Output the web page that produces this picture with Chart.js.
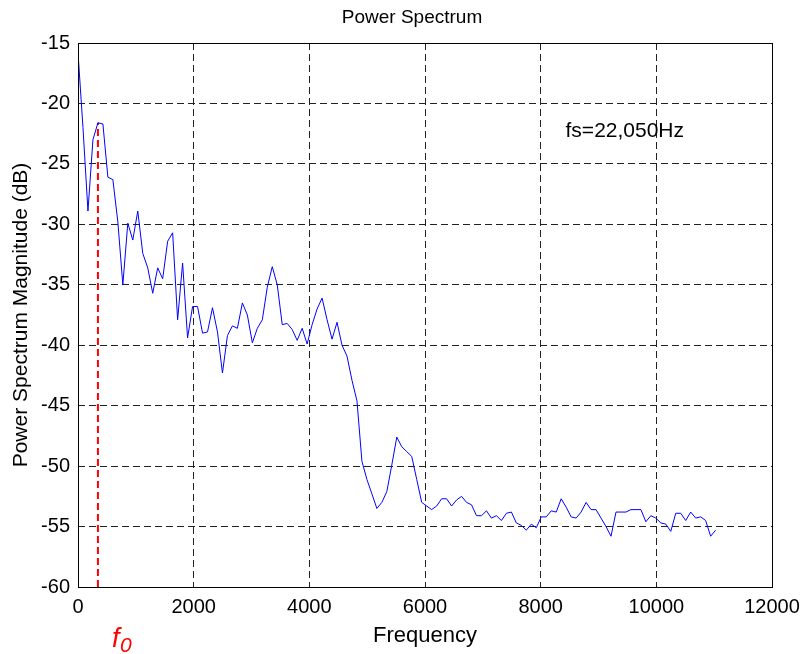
<!DOCTYPE html>
<html>
<head>
<meta charset="utf-8">
<script src="https://cdn.jsdelivr.net/npm/chart.js@4/dist/chart.umd.min.js"></script>
<style>
  html, body { margin: 0; padding: 0; background: #fff; }
  #wrap { width: 808px; height: 654px; }
</style>
</head>
<body>
<div id="wrap"><canvas id="specChart" width="808" height="654"></canvas></div>
<script>
// sample rate and FFT size (256 points -> 129 bins up to fs/2)
const fs = 22050;
const nfft = 256;
const f0Bin = 4;

// magnitude of each bin in dB, bin 0 .. 128
const magDb = [
  -15.8, -22.0, -28.9, -23.0, -21.6, -21.7, -26.1, -26.3, -29.8, -35.0,
  -29.9, -31.3, -28.9, -32.4, -33.6, -35.7, -33.6, -34.5, -31.4, -30.7,
  -37.9, -33.2, -39.4, -36.8, -36.8, -39.0, -38.9, -36.9, -38.9, -42.3,
  -39.2, -38.4, -38.6, -36.5, -37.5, -39.8, -38.6, -37.9, -35.2, -33.5,
  -35.0, -38.3, -38.2, -38.7, -39.6, -38.6, -39.9, -38.3, -37.0, -36.1,
  -37.9, -39.5, -38.1, -40.0, -40.9, -42.9, -44.6, -49.6, -51.1, -52.3,
  -53.5, -53.0, -52.1, -49.9, -47.6, -48.4, -48.8, -49.2, -51.1, -53.0,
  -53.3, -53.6, -53.3, -52.7, -52.7, -53.3, -52.8, -52.5, -53.0, -53.2,
  -54.1, -54.1, -53.7, -54.3, -54.1, -54.5, -53.9, -53.8, -54.7, -54.9,
  -55.3, -54.8, -55.1, -54.2, -54.2, -53.7, -53.8, -52.7, -53.4, -54.2,
  -54.3, -53.8, -53.0, -53.6, -53.6, -54.3, -55.0, -55.8, -53.8, -53.8,
  -53.8, -53.6, -53.6, -53.6, -54.6, -54.1, -54.3, -54.7, -54.8, -55.4,
  -53.9, -53.9, -54.5, -53.8, -54.3, -54.2, -54.5, -55.8, -55.3
];

const xTicks = [0, 2000, 4000, 6000, 8000, 10000, 12000];
const yTicks = [-60, -55, -50, -45, -40, -35, -30, -25, -20, -15];

const binHz = fs / nfft;
const spectrum = magDb.map((v, i) => ({ x: i * binHz, y: v }));
const f0 = f0Bin * binHz;
const f0Line = [{ x: f0, y: yTicks[0] }, { x: f0, y: magDb[f0Bin] }];

const FONT = "'Liberation Sans', Arial, sans-serif";
Chart.defaults.font.family = FONT;
Chart.defaults.color = '#000';

// title over the axes, box round the plot, the fs note and the red f0 label
const extras = {
  id: 'extras',
  afterDatasetsDraw(chart) {
    const { ctx, chartArea: a, scales: { x, y } } = chart;
    ctx.save();
    ctx.strokeStyle = '#000';
    ctx.lineWidth = 1;
    ctx.setLineDash([]);
    ctx.strokeRect(Math.round(a.left) + 0.5, Math.round(a.top) + 0.5,
      Math.round(a.right - a.left), Math.round(a.bottom - a.top));

    ctx.fillStyle = '#000';
    ctx.font = '19px ' + FONT;
    ctx.textAlign = 'center';
    ctx.textBaseline = 'middle';
    ctx.fillText('Power Spectrum', (a.left + a.right) / 2 - 13, a.top - 25);

    ctx.font = '21px ' + FONT;
    ctx.textAlign = 'left';
    ctx.fillText('fs=22,050Hz', x.getPixelForValue(8430), y.getPixelForValue(-22.3));

    const fx = x.getPixelForValue(f0) + 14;
    ctx.fillStyle = '#ff0000';
    ctx.textBaseline = 'alphabetic';
    ctx.font = 'italic 27px ' + FONT;
    ctx.fillText('f', fx, a.bottom + 60);
    ctx.font = 'italic 21px ' + FONT;
    ctx.fillText('0', fx + 8, a.bottom + 65);
    ctx.restore();
  }
};

new Chart(document.getElementById('specChart'), {
  type: 'line',
  data: {
    datasets: [{
      data: spectrum,
      borderColor: '#0000ff',
      borderWidth: 1,
      pointRadius: 0,
      tension: 0,
      fill: false
    }, {
      data: f0Line,
      borderColor: '#ff0000',
      borderWidth: 2,
      borderDash: [7, 4],
      pointRadius: 0,
      fill: false
    }]
  },
  options: {
    responsive: false,
    animation: false,
    layout: { padding: { left: 0, right: 36, top: 43, bottom: 0 } },
    plugins: {
      legend: { display: false },
      tooltip: { enabled: false },
      title: { display: false }
    },
    scales: {
      x: {
        type: 'linear',
        min: 0,
        max: 12000,
        afterBuildTicks: s => { s.ticks = xTicks.map(v => ({ value: v })); },
        afterFit: s => { s.height = 67; },
        ticks: { font: { size: 20 }, padding: 8, maxRotation: 0, callback: v => String(v) },
        grid: { color: '#222', lineWidth: 1, drawTicks: false },
        border: { display: false, dash: [7, 4] },
        title: { display: true, text: 'Frequency', font: { size: 22 }, padding: { bottom: 5 } }
      },
      y: {
        min: -60,
        max: -15,
        afterBuildTicks: s => { s.ticks = yTicks.map(v => ({ value: v })); },
        afterFit: s => { s.width = 78; },
        ticks: { font: { size: 20 }, padding: 8, callback: v => String(v) },
        grid: { color: '#222', lineWidth: 1, drawTicks: false },
        border: { display: false, dash: [7, 4] },
        title: { display: true, text: 'Power Spectrum Magnitude (dB)', font: { size: 21 }, padding: { top: 9 } }
      }
    }
  },
  plugins: [extras]
});
</script>
</body>
</html>
